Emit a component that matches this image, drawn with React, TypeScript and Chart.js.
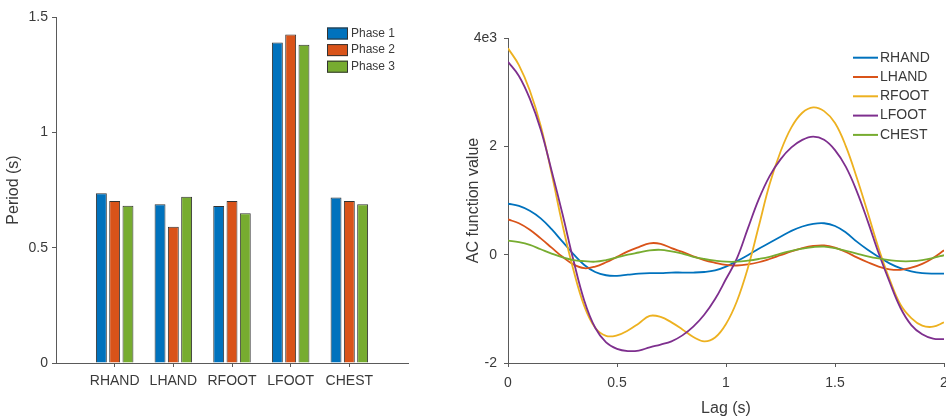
import React, { useEffect, useRef } from 'react';
import { Chart, registerables } from 'chart.js';

Chart.register(...registerables);

// ---------- data ----------
const CATEGORIES = ['RHAND', 'LHAND', 'RFOOT', 'LFOOT', 'CHEST'];
const PHASE1 = [0.736, 0.688, 0.681, 1.389, 0.718];
const PHASE2 = [0.702, 0.591, 0.702, 1.424, 0.702];
const PHASE3 = [0.682, 0.721, 0.649, 1.38, 0.688];

const LAGS = [
  0, 0.05, 0.1, 0.15, 0.2, 0.25, 0.3, 0.35, 0.4, 0.45,
  0.5, 0.55, 0.6, 0.65, 0.7, 0.75, 0.8, 0.85, 0.9, 0.95,
  1, 1.05, 1.1, 1.15, 1.2, 1.25, 1.3, 1.35, 1.4, 1.45,
  1.5, 1.55, 1.6, 1.65, 1.7, 1.75, 1.8, 1.85, 1.9, 1.95, 2,
];
// values in thousands
const RHAND = [
  0.94, 0.9, 0.81, 0.67, 0.47, 0.24, 0.01, -0.19, -0.32, -0.38,
  -0.39, -0.37, -0.35, -0.34, -0.34, -0.33, -0.33, -0.33, -0.32, -0.29,
  -0.22, -0.12, -0.01, 0.11, 0.22, 0.33, 0.44, 0.52, 0.57, 0.58,
  0.53, 0.41, 0.24, 0.09, -0.04, -0.16, -0.25, -0.31, -0.34, -0.35, -0.35,
];
const LHAND = [
  0.65, 0.58, 0.46, 0.3, 0.13, -0.04, -0.18, -0.25, -0.22, -0.14,
  -0.04, 0.06, 0.14, 0.21, 0.2, 0.12, 0.05, -0.03, -0.1, -0.15,
  -0.19, -0.2, -0.18, -0.14, -0.08, -0.01, 0.06, 0.12, 0.16, 0.17,
  0.13, 0.05, -0.05, -0.14, -0.22, -0.27, -0.28, -0.24, -0.17, -0.06, 0.08,
];
const RFOOT = [
  3.81, 3.5, 3.03, 2.38, 1.5, 0.55, -0.28, -0.95, -1.35, -1.5,
  -1.49, -1.4, -1.27, -1.13, -1.15, -1.25, -1.38, -1.52, -1.6, -1.53,
  -1.28, -0.86, -0.25, 0.52, 1.3, 1.9, 2.35, 2.62, 2.72, 2.65,
  2.43, 2.0, 1.42, 0.78, 0.12, -0.45, -0.92, -1.17, -1.31, -1.33, -1.25,
];
const LFOOT = [
  3.56, 3.3, 2.88, 2.31, 1.55, 0.75, -0.1, -0.85, -1.35, -1.62,
  -1.74, -1.78, -1.77, -1.71, -1.66, -1.6, -1.49, -1.33, -1.11, -0.82,
  -0.45, -0.07, 0.48, 1.02, 1.45, 1.76, 1.98, 2.12, 2.18, 2.12,
  1.93, 1.62, 1.17, 0.62, 0.03, -0.5, -0.98, -1.3, -1.47, -1.55, -1.56,
];
const CHEST = [
  0.26, 0.23, 0.18, 0.1, 0.02, -0.05, -0.1, -0.12, -0.13, -0.1,
  -0.05, 0.0, 0.04, 0.08, 0.09, 0.06, 0.02, -0.04, -0.08, -0.11,
  -0.13, -0.13, -0.11, -0.08, -0.04, 0.02, 0.07, 0.11, 0.14, 0.15,
  0.12, 0.07, 0.02, -0.03, -0.07, -0.1, -0.12, -0.12, -0.1, -0.06, -0.01,
];
const SERIES_NAMES = ['RHAND', 'LHAND', 'RFOOT', 'LFOOT', 'CHEST'];
const SERIES_VALUES = [RHAND, LHAND, RFOOT, LFOOT, CHEST];

// ---------- styles ----------
const FONT = '"Liberation Sans", Arial, Helvetica, sans-serif';
const TEXT = '#3a3a3a';
const AXIS = '#5a5a5a';
const EDGE = '#333333';
const BAR_COLORS = ['#0072BD', '#D95319', '#77AC30'];
const LINE_COLORS = ['#0072BD', '#D95319', '#EDB120', '#7E2F8E', '#77AC30'];

const insideLegend = {
  id: 'insideLegend',
  afterDraw(chart: any, _args: any, opts: any) {
    if (!opts || !opts.display) return;
    const ctx = chart.ctx;
    ctx.save();
    ctx.font = `${opts.size}px ${FONT}`;
    ctx.textBaseline = 'middle';
    ctx.textAlign = 'left';
    chart.data.datasets.forEach((ds: any, i: number) => {
      const y = opts.y + i * opts.rowHeight;
      const color = ds.legendColor;
      if (opts.kind === 'box') {
        ctx.fillStyle = color;
        ctx.fillRect(opts.x, y - opts.boxH / 2, opts.boxW, opts.boxH);
        ctx.strokeStyle = EDGE;
        ctx.lineWidth = 1;
        ctx.strokeRect(opts.x + 0.5, y - opts.boxH / 2 + 0.5, opts.boxW - 1, opts.boxH - 1);
      } else {
        ctx.strokeStyle = color;
        ctx.lineWidth = 2;
        ctx.beginPath();
        ctx.moveTo(opts.x, y);
        ctx.lineTo(opts.x + opts.boxW, y);
        ctx.stroke();
      }
      ctx.fillStyle = TEXT;
      ctx.fillText(ds.label, opts.textX, y);
    });
    ctx.restore();
  },
};

const tickFont = { family: FONT, size: 14 };
const titleFont = { family: FONT, size: 16 };
const plainNumber = (v: any) => String(v);

export default function App() {
  const leftRef = useRef<HTMLCanvasElement>(null);
  const rightRef = useRef<HTMLCanvasElement>(null);

  useEffect(() => {
    const phases = [PHASE1, PHASE2, PHASE3];
    const left = new Chart(leftRef.current as HTMLCanvasElement, {
      type: 'bar',
      data: {
        labels: ['', ...CATEGORIES, ''],
        datasets: phases.map((p, i) => ({
          label: `Phase ${i + 1}`,
          data: [null, ...p, null],
          backgroundColor: BAR_COLORS[i],
          legendColor: BAR_COLORS[i],
          borderColor: EDGE,
          borderWidth: 1,
          categoryPercentage: 0.68,
          barPercentage: 0.82,
        })) as any,
      },
      options: {
        responsive: false,
        animation: false,
        layout: { padding: { top: 17, right: 32, left: 0, bottom: 0 } },
        plugins: {
          legend: { display: false },
          tooltip: { enabled: false },
          insideLegend: {
            display: true, kind: 'box', x: 327, y: 33.5, rowHeight: 16.6,
            boxW: 21, boxH: 12, textX: 351, size: 12,
          },
        } as any,
        scales: {
          x: {
            type: 'category',
            offset: false,
            grid: { offset: false, drawOnChartArea: false, drawTicks: true, tickLength: 4, tickColor: AXIS },
            border: { color: AXIS, width: 1 },
            ticks: { font: tickFont, color: TEXT, padding: 6, maxRotation: 0, autoSkip: false },
            afterBuildTicks: (s: any) => {
              s.ticks = s.ticks.filter((t: any) => t.value >= 1 && t.value <= CATEGORIES.length);
            },
            afterFit: (s: any) => {
              s.height = 55;
              s.paddingLeft = 0;
              s.paddingRight = 0;
            },
          },
          y: {
            min: 0,
            max: 1.5,
            grid: { drawOnChartArea: false, drawTicks: true, tickLength: 4, tickColor: AXIS },
            border: { color: AXIS, width: 1 },
            ticks: { stepSize: 0.5, font: tickFont, color: TEXT, padding: 4, callback: plainNumber },
            title: { display: true, text: 'Period (s)', font: titleFont, color: TEXT, padding: { top: 4, bottom: 0 } },
            afterFit: (s: any) => {
              s.width = 56;
              s.paddingTop = 0;
              s.paddingBottom = 0;
            },
          },
        } as any,
      },
      plugins: [insideLegend as any],
    });

    const right = new Chart(rightRef.current as HTMLCanvasElement, {
      type: 'line',
      data: {
        datasets: SERIES_NAMES.map((name, i) => ({
          label: name,
          data: LAGS.map((x, j) => ({ x, y: SERIES_VALUES[i][j] })),
          borderColor: LINE_COLORS[i],
          legendColor: LINE_COLORS[i],
          borderWidth: 1.8,
          pointRadius: 0,
          fill: false,
          tension: 0.4,
          order: SERIES_NAMES.length - 1 - i,
        })) as any,
      },
      options: {
        responsive: false,
        animation: false,
        layout: { padding: { top: 38, right: 2, left: 0, bottom: 0 } },
        plugins: {
          legend: { display: false },
          tooltip: { enabled: false },
          insideLegend: {
            display: true, kind: 'line', x: 413, y: 57.7, rowHeight: 19.3,
            boxW: 25, boxH: 0, textX: 440, size: 14,
          },
        } as any,
        scales: {
          x: {
            type: 'linear',
            min: 0,
            max: 2,
            grid: { drawOnChartArea: false, drawTicks: true, tickLength: 4, tickColor: AXIS },
            border: { color: AXIS, width: 1 },
            ticks: { stepSize: 0.5, font: tickFont, color: TEXT, padding: 8, maxRotation: 0, callback: plainNumber },
            title: { display: true, text: 'Lag (s)', font: titleFont, color: TEXT, padding: { top: 1, bottom: 0 } },
            afterFit: (s: any) => {
              s.height = 55;
              s.paddingLeft = 0;
              s.paddingRight = 0;
            },
          },
          y: {
            type: 'linear',
            min: -2,
            max: 4,
            grid: { drawOnChartArea: false, drawTicks: true, tickLength: 4, tickColor: AXIS },
            border: { color: AXIS, width: 1 },
            ticks: {
              stepSize: 2,
              font: tickFont,
              color: TEXT,
              padding: 7,
              callback: (v: any) => (v === 4 ? '4e3' : String(v)),
            },
            title: { display: true, text: 'AC function value', font: titleFont, color: TEXT, padding: { top: 24, bottom: 0 } },
            afterFit: (s: any) => {
              s.width = 68;
              s.paddingTop = 0;
              s.paddingBottom = 0;
            },
          },
        } as any,
      },
      plugins: [insideLegend as any],
    });

    return () => {
      left.destroy();
      right.destroy();
    };
  }, []);

  return (
    <div style={{ position: 'fixed', left: 0, top: 0, width: 946, height: 418, background: '#fff', overflow: 'hidden' }}>
      <canvas ref={leftRef} width={440} height={418} style={{ position: 'absolute', left: 0, top: 0 }} />
      <canvas ref={rightRef} width={506} height={418} style={{ position: 'absolute', left: 440, top: 0 }} />
    </div>
  );
}
